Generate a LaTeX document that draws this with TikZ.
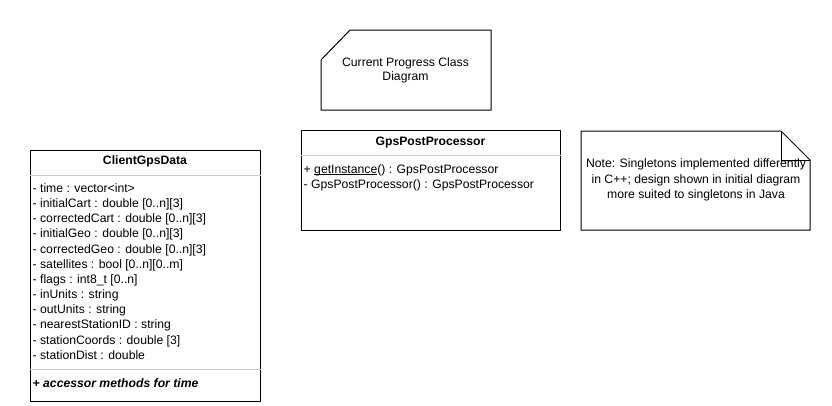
\documentclass[tikz,border=0pt]{standalone}
\usepackage{fontspec}
\setmainfont{Liberation Sans}
\usetikzlibrary{positioning}
\definecolor{sepgray}{RGB}{205,205,205}
\newcommand{\ulname}[1]{\setbox0\hbox{#1}\rlap{\rule[-1.4pt]{\wd0}{0.8pt}}\box0}

\begin{document}
\begin{tikzpicture}[x=1pt, y=-1pt,
		classbox/.style={draw, line width=1pt, inner sep=0pt},
		sepline/.style={draw=sepgray, line width=1.3pt},
		txt/.style={inner sep=0pt, font=\fontsize{12.2}{15}\selectfont}]
		\useasboundingbox (0,0) rectangle (832,405);
		% note: title of the diagram
		\draw[line width=1pt] (321,110) -- (321,60) -- (350,30) -- (491,30) -- (491,110) -- cycle;
		\node[txt, anchor=base] (title1) at (405.5,66.3) {Current Progress Class};
		\node[txt, anchor=base] (title2) at (405.5,80.3) {Diagram};
		% note: singletons
		\draw[line width=1pt] (581,230) -- (581,131) -- (781,131) -- (810,160) -- (810,230) -- cycle;
		\draw[line width=1pt] (781,131) -- (781,160) -- (810,160);
		\node[txt, anchor=base] (note1) at (696,167.8) {Note: Singletons implemented differently};
		\node[txt, anchor=base] (note2) at (696,183.1) {in C++; design shown in initial diagram};
		\node[txt, anchor=base] (note3) at (696,198.4) {more suited to singletons in Java};
		% class ClientGpsData
		\node[classbox, minimum width=230pt, minimum height=251pt] (cgd) at (145,275.5) {};
		\draw[sepline] ([yshift=-26pt]cgd.north west) -- ([yshift=-26pt]cgd.north east);
		\draw[sepline] ([yshift=-220pt]cgd.north west) -- ([yshift=-220pt]cgd.north east);
		\node[txt, anchor=base] (cgd-name) at (145,164.5) {\bfseries ClientGpsData};
		\foreach \attr [count=\i] in {{- time : vector<int>}, {- initialCart : double [0..n][3]},
			{- correctedCart : double [0..n][3]}, {- initialGeo : double [0..n][3]},
			{- correctedGeo : double [0..n][3]}, {- satellites : bool [0..n][0..m]},
			{- flags : int8\_t [0..n]}, {- inUnits : string}, {- outUnits : string},
			{- nearestStationID : string}, {- stationCoords : double [3]}, {- stationDist : double}}
			\node[txt, anchor=base west] (cgd-a\i) at (32.5,{192.5+15.15*(\i-1)}) {\attr};
		\node[txt, anchor=base west] (cgd-m1) at (32.5,387.5) {\bfseries\itshape + accessor methods for time};
		% class GpsPostProcessor
		\node[classbox, minimum width=259pt, minimum height=100pt] (gpp) at (430.5,180) {};
		\draw[sepline] ([yshift=-26pt]gpp.north west) -- ([yshift=-26pt]gpp.north east);
		\node[txt, anchor=base] (gpp-name) at (430.5,145.5) {\bfseries GpsPostProcessor};
		\node[txt, anchor=base west] (gpp-m1) at (303.5,173.5) {+ \ulname{getInstance}() : GpsPostProcessor};
		\node[txt, anchor=base west] (gpp-m2) at (303.5,188.7) {- GpsPostProcessor() : GpsPostProcessor};
	\end{tikzpicture}
\end{document}
